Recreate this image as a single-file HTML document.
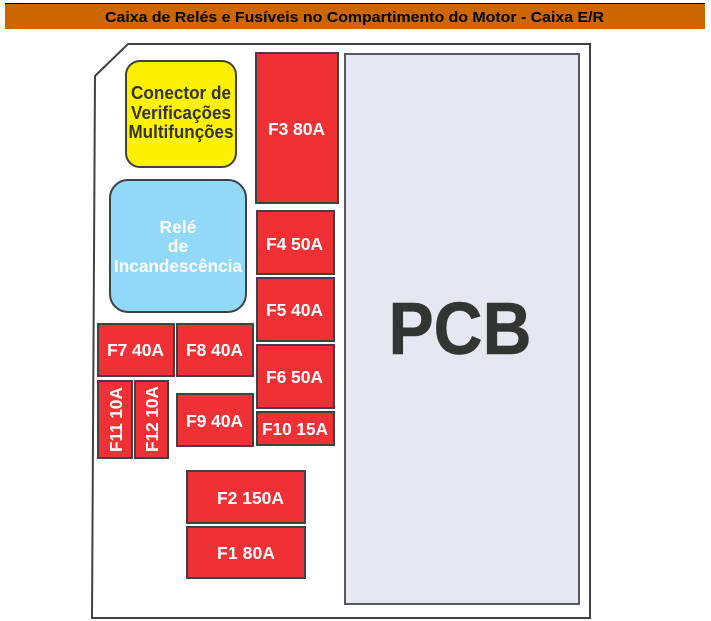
<!DOCTYPE html>
<html><head><meta charset="utf-8">
<style>
html,body{margin:0;padding:0;background:#fff;width:711px;height:621px;overflow:hidden}
svg{display:block;position:absolute;left:0;top:0}
text{font-family:"Liberation Sans",sans-serif;font-weight:bold}
.f{fill:#ef3135;stroke:#414042;stroke-width:2}
.w{fill:#fff;font-size:17.5px;text-anchor:start}
.y{fill:#333;font-size:18px;text-anchor:middle}
</style></head><body>
<svg width="711" height="621" viewBox="0 0 711 621">
<rect x="5" y="3" width="700" height="26" fill="#cc6600"/>
<rect x="5" y="3" width="700" height="1" fill="#000"/>
<text x="354.5" y="22" text-anchor="middle" font-size="15" fill="#000" textLength="499" lengthAdjust="spacingAndGlyphs">Caixa de Relés e Fusíveis no Compartimento do Motor - Caixa E/R</text>

<path d="M95 76 L128 44 H590 V618 H92 Z" fill="#fff" stroke="#414042" stroke-width="2"/>

<rect x="126" y="61" width="110" height="106" rx="14" fill="#fff200" stroke="#414042" stroke-width="2"/>
<text class="y" x="181" y="99" textLength="100" lengthAdjust="spacingAndGlyphs">Conector de</text>
<text class="y" x="181" y="119" textLength="100" lengthAdjust="spacingAndGlyphs">Verificações</text>
<text class="y" x="181" y="138" textLength="105" lengthAdjust="spacingAndGlyphs">Multifunções</text>

<rect x="110" y="180" width="136" height="132" rx="18" fill="#92d9f7" stroke="#414042" stroke-width="2"/>
<text x="178" y="233" text-anchor="middle" fill="#fff" font-size="17.5">Relé</text>
<text x="178" y="252" text-anchor="middle" fill="#fff" font-size="17.5">de</text>
<text x="178" y="272" text-anchor="middle" fill="#fff" font-size="17.5" textLength="128" lengthAdjust="spacingAndGlyphs">Incandescência</text>

<rect x="256" y="53" width="82" height="150" class="f"/>
<text class="w" x="268" y="135" textLength="57">F3 80A</text>

<rect x="345" y="54" width="234" height="550" fill="#e6e7f0" stroke="#58595b" stroke-width="2"/>
<text x="388.5" y="354" font-size="74" fill="#333532" stroke="#333532" stroke-width="0.6" textLength="143" lengthAdjust="spacingAndGlyphs">PCB</text>

<rect x="257" y="211" width="77" height="63" class="f"/>
<text class="w" x="266" y="250" textLength="57">F4 50A</text>
<rect x="257" y="278" width="77" height="63" class="f"/>
<text class="w" x="266" y="316" textLength="57">F5 40A</text>
<rect x="257" y="345" width="77" height="63" class="f"/>
<text class="w" x="266" y="383" textLength="57">F6 50A</text>
<rect x="257" y="412" width="77" height="33" class="f"/>
<text class="w" x="262" y="435" textLength="66" lengthAdjust="spacingAndGlyphs">F10 15A</text>

<rect x="98" y="324" width="76" height="52" class="f"/>
<text class="w" x="107" y="356" textLength="57">F7 40A</text>
<rect x="177" y="324" width="76" height="52" class="f"/>
<text class="w" x="186" y="356" textLength="57">F8 40A</text>
<rect x="177" y="394" width="76" height="52" class="f"/>
<text class="w" x="186" y="427" textLength="57">F9 40A</text>

<rect x="98" y="381" width="34" height="77" class="f"/>
<text class="w" transform="translate(122,452) rotate(-90)" textLength="65">F11 10A</text>
<rect x="135" y="381" width="33" height="77" class="f"/>
<text class="w" transform="translate(158,452) rotate(-90)" textLength="66">F12 10A</text>

<rect x="187" y="471" width="118" height="52" class="f"/>
<text class="w" x="217" y="504" textLength="67" lengthAdjust="spacingAndGlyphs">F2 150A</text>
<rect x="187" y="527" width="118" height="51" class="f"/>
<text class="w" x="217" y="559" textLength="58">F1 80A</text>
</svg>
</body></html>
